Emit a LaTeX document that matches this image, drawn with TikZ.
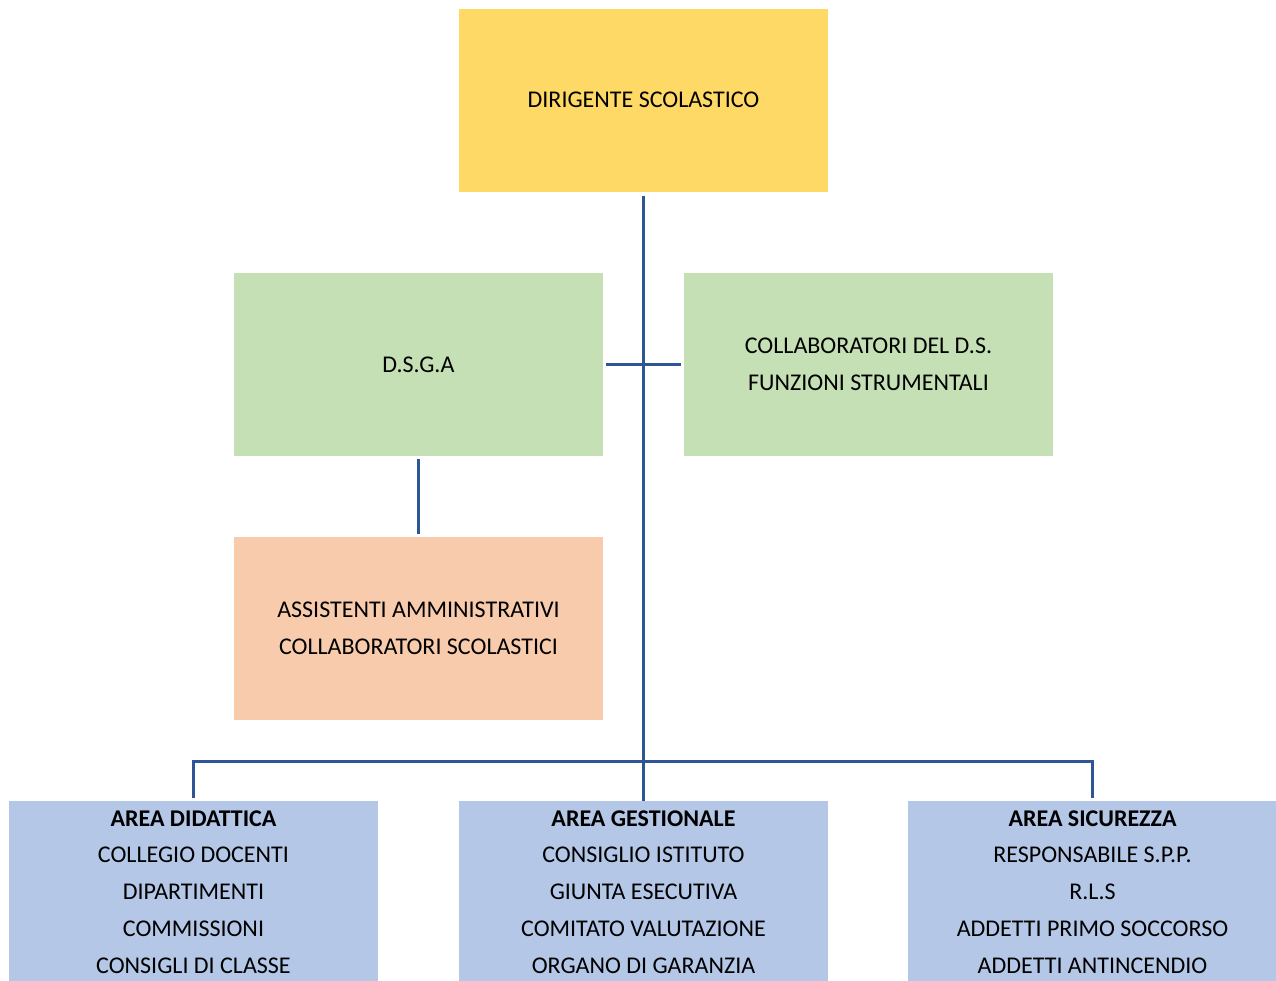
\documentclass[tikz,border=0pt]{standalone}
\usepackage{fontspec}
\setmainfont{Carlito}
\definecolor{dsyellow}{HTML}{FFD966}
\definecolor{dsgreen}{HTML}{C5E0B4}
\definecolor{dsorange}{HTML}{F8CBAD}
\definecolor{dsblue}{HTML}{B4C7E7}
\definecolor{linkblue}{HTML}{2F5597}
\begin{document}
\begin{tikzpicture}[x=1pt,y=-1pt,
  box/.style={rectangle, inner sep=0pt, minimum width=369pt, minimum height=183pt},
  areabox/.style={rectangle, inner sep=0pt, minimum width=369pt, minimum height=190pt, anchor=north},
  label/.style={align=center, font=\fontsize{24}{36.7}\selectfont},
  link/.style={draw=linkblue, line width=3pt}]
  \useasboundingbox (0,0) rectangle (1276,980);
  % top level
  \node[box, fill=dsyellow] (dir) at (643.5,100) {};
  \node[label] (dirtxt) at (dir.center) {DIRIGENTE SCOLASTICO};
  % staff level
  \node[box, fill=dsgreen] (dsga) at (418.5,364.5) {};
  \node[label] (dsgatxt) at (dsga.center) {D.S.G.A};
  \node[box, fill=dsgreen] (coll) at (868.5,364.5) {};
  \node[label] (colltxt) at (coll.center) {COLLABORATORI DEL D.S.\\FUNZIONI STRUMENTALI};
  \node[box, fill=dsorange] (asst) at (418.5,628.5) {};
  \node[label] (assttxt) at (asst.center) {ASSISTENTI AMMINISTRATIVI\\COLLABORATORI SCOLASTICI};
  % areas
  \node[areabox, fill=dsblue] (did) at (193.5,801) {};
  \node[areabox, fill=dsblue] (gest) at (643.5,801) {};
  \node[areabox, fill=dsblue] (sic) at (1092.5,801) {};
  \node[label, anchor=north] (didtxt) at (193.5,807) {\textbf{AREA DIDATTICA}\\COLLEGIO DOCENTI\\DIPARTIMENTI\\COMMISSIONI\\CONSIGLI DI CLASSE};
  \node[label, anchor=north] (gesttxt) at (643.5,807) {\textbf{AREA GESTIONALE}\\CONSIGLIO ISTITUTO\\GIUNTA ESECUTIVA\\COMITATO VALUTAZIONE\\ORGANO DI GARANZIA};
  \node[label, anchor=north] (sictxt) at (1092.5,807) {\textbf{AREA SICUREZZA}\\RESPONSABILE S.P.P.\\R.L.S\\ADDETTI PRIMO SOCCORSO\\ADDETTI ANTINCENDIO};
  % connectors
  \coordinate (bus) at (643,761);
  \draw[link, shorten <=4pt] (dir.south) -- (gest.north);
  \draw[link, shorten <=3pt, shorten >=3pt] (dsga.east) -- (coll.west);
  \draw[link, shorten <=3pt, shorten >=3pt] (dsga.south) -- (asst.north);
  \draw[link, shorten <=3pt, shorten >=3pt] (did.north) |- (bus) -| (sic.north);
\end{tikzpicture}
\end{document}
